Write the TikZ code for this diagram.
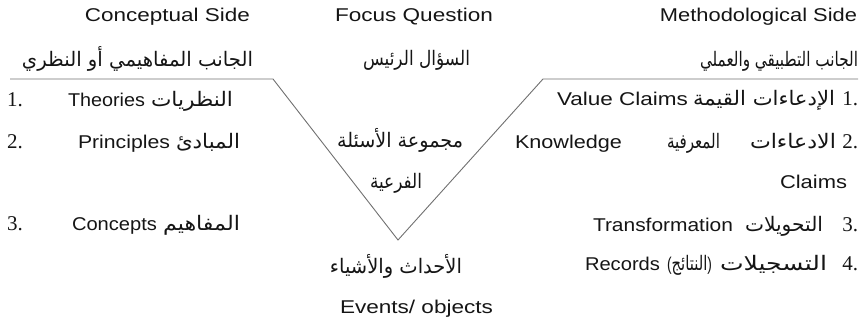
\documentclass[tikz,border=0pt]{standalone}
\usepackage{fontspec}
\usepackage{graphicx}
\TeXXeTstate=1
\setmainfont{Liberation Sans}
\newfontfamily\arfont[Script=Arabic]{DejaVu Sans}
\newfontfamily\numfont{Liberation Serif}
% stretch a box to a given width, keeping its height
\newcommand\fitw[2]{\resizebox{#1pt}{\height}{#2}}
\newcommand\AR[1]{{\arfont\fontsize{20}{24}\selectfont\beginR #1\endR}}
\newcommand\EN[1]{{\fontsize{18.5}{22}\selectfont #1}}
\newcommand\NUM[1]{{\numfont\fontsize{21}{24}\selectfont #1}}
\definecolor{ink}{HTML}{151515}
\definecolor{vline}{HTML}{707070}
\tikzset{
  txt/.style={inner sep=0pt, outer sep=0pt, text=ink},
  vee/.style={draw=vline, line width=0.9pt, line join=miter},
}
\begin{document}
\begin{tikzpicture}[x=1pt, y=-1pt]
\useasboundingbox (0,0) rectangle (865,326);

% the V outline with its two shoulders
\coordinate (lA) at (10,79);
\coordinate (lB) at (273,79);
\coordinate (vB) at (398,240);
\coordinate (rB) at (543,79);
\coordinate (rA) at (858,79);
\draw[vee] (lA) -- (lB) -- (vB) -- (rB) -- (rA);

% headings
\node[txt, anchor=base] (cs) at (167.5,21.5) {\fitw{165}{\EN{Conceptual Side}}};
\node[txt, anchor=base] (fq) at (414,21.5) {\fitw{158}{\EN{Focus Question}}};
\node[txt, anchor=base east] (ms) at (857,21.5) {\fitw{197}{\EN{Methodological Side}}};

\node[txt, anchor=base] (csar) at (137.5,67) {\fitw{231}{\AR{الجانب المفاهيمي أو النظري}}};
\node[txt, anchor=base] (fqar) at (416.5,66) {\fitw{107}{\AR{السؤال الرئيس}}};
\node[txt, anchor=base east] (msar) at (858,67) {\fitw{158}{\AR{الجانب التطبيقي والعملي}}};

% conceptual side list
\node[txt, anchor=base west] (ln1) at (7,107) {\NUM{1.}};
\node[txt, anchor=base west] (le1) at (68,107) {\fitw{77}{\EN{Theories}}};
\node[txt, anchor=base west] (la1) at (151,107) {\fitw{82}{\AR{النظريات}}};

\node[txt, anchor=base west] (ln2) at (7,149) {\NUM{2.}};
\node[txt, anchor=base west] (le2) at (78,149) {\fitw{92}{\EN{Principles}}};
\node[txt, anchor=base west] (la2) at (176,149) {\fitw{64}{\AR{المبادئ}}};

\node[txt, anchor=base west] (ln3) at (7,230) {\NUM{3.}};
\node[txt, anchor=base west] (le3) at (72,230) {\fitw{85}{\EN{Concepts}}};
\node[txt, anchor=base west] (la3) at (163,230) {\fitw{77}{\AR{المفاهيم}}};

% inside and below the V
\node[txt, anchor=base] (sq1) at (400,148) {\fitw{126}{\AR{مجموعة الأسئلة}}};
\node[txt, anchor=base] (sq2) at (396,188) {\fitw{52}{\AR{الفرعية}}};
\node[txt, anchor=base] (evar) at (396,273) {\fitw{132}{\AR{الأحداث والأشياء}}};
\node[txt, anchor=base] (ev) at (416.5,313) {\fitw{153}{\EN{Events/ objects}}};

% methodological side list
\node[txt, anchor=base east] (rn1) at (858,106) {\NUM{1.}};
\node[txt, anchor=base east] (ra1) at (835,106) {\fitw{142}{\AR{الإدعاءات القيمة}}};
\node[txt, anchor=base east] (re1) at (688,106) {\fitw{131}{\EN{Value Claims}}};

\node[txt, anchor=base east] (rn2) at (858,149) {\NUM{2.}};
\node[txt, anchor=base east] (ra2a) at (836,149) {\fitw{86}{\AR{الادعاءات}}};
\node[txt, anchor=base east] (ra2b) at (720,149) {\fitw{53}{\AR{المعرفية}}};
\node[txt, anchor=base west] (re2) at (515,149) {\fitw{107}{\EN{Knowledge}}};
\node[txt, anchor=base east] (re2b) at (847,188) {\fitw{67}{\EN{Claims}}};

\node[txt, anchor=base east] (rn3) at (858,231) {\NUM{3.}};
\node[txt, anchor=base east] (ra3) at (823,231) {\fitw{78}{\AR{التحويلات}}};
\node[txt, anchor=base east] (re3) at (733,231) {\fitw{140}{\EN{Transformation}}};

\node[txt, anchor=base east] (rn4) at (858,270) {\NUM{4.}};
\node[txt, anchor=base east] (ra4a) at (827,270) {\fitw{107}{\AR{التسجيلات}}};
\node[txt, anchor=base east] (ra4b) at (712,270) {\fitw{45}{\EN{(}\AR{النتائج}\EN{)}}};
\node[txt, anchor=base east] (re4) at (660,270) {\fitw{75}{\EN{Records}}};
\end{tikzpicture}
\end{document}
